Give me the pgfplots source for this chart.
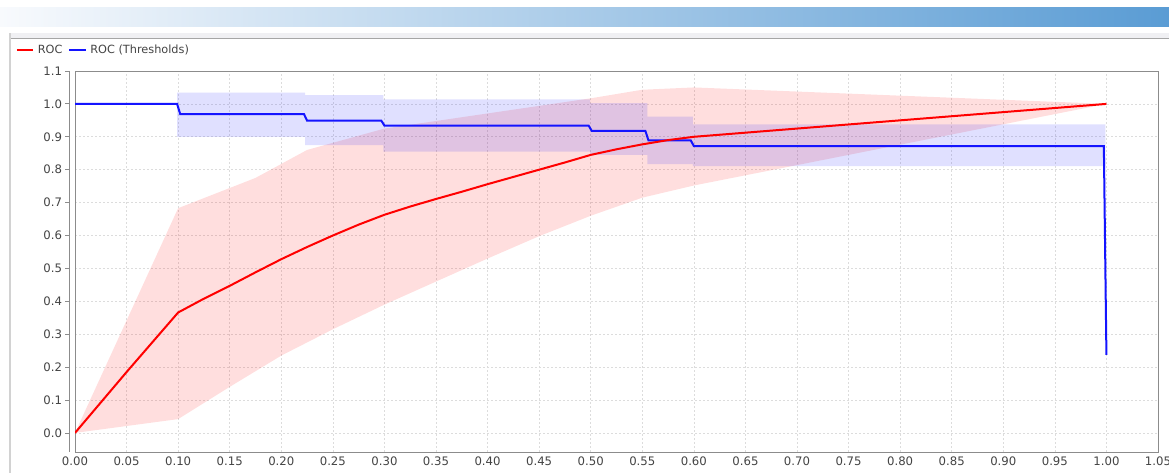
\documentclass[border=0pt]{standalone}
\usepackage{fontspec}
\setmainfont{DejaVu Sans}
\usepackage{pgfplots}
\pgfplotsset{compat=1.18}
\definecolor{txt}{RGB}{68,68,68}
\definecolor{gridc}{RGB}{220,220,220}
\definecolor{framec}{RGB}{140,140,140}
\definecolor{rocred}{RGB}{255,0,0}
\definecolor{rocblue}{RGB}{20,20,255}
\definecolor{gradL}{RGB}{248,250,253}
\definecolor{gradR}{RGB}{90,156,212}
\definecolor{bandgray}{RGB}{240,240,243}
\newcommand{\tf}{\fontsize{11.3}{13}\selectfont}
\newcommand{\tk}{\fontsize{11.7}{13}\selectfont}
\begin{document}
\begin{tikzpicture}
\useasboundingbox (0pt,0pt) rectangle (1169pt,473pt);
\fill[white] (0pt,0pt) rectangle (1169pt,473pt);
\shade[left color=gradL, right color=gradR] (0pt,446pt) rectangle (1169pt,465pt);
\fill[bandgray] (11pt,435pt) rectangle (1169pt,440pt);
\draw[gray!70, line width=0.8pt] (11pt,435pt) -- (1169pt,435pt);
\draw[gray!35, line width=2pt] (10pt,0pt) -- (10pt,440pt);

\begin{axis}[
  at={(75pt,21pt)}, anchor=south west,
  scale only axis, width=1083pt, height=381pt,
  xmin=0, xmax=1.05, ymin=-0.058, ymax=1.1,
  xtick={0,0.05,0.1,0.15,0.2,0.25,0.3,0.35,0.4,0.45,0.5,0.55,0.6,0.65,0.7,0.75,0.8,0.85,0.9,0.95,1.0,1.05},
  ytick={0,0.1,0.2,0.3,0.4,0.5,0.6,0.7,0.8,0.9,1.0,1.1},
  yticklabel={\hbox{}},
  grid=major,
  grid style={gridc, dash pattern=on 2pt off 2pt, line width=0.7pt},
  axis line style={framec, line width=0.8pt},
  major tick length=0pt,
  /pgf/number format/assume math mode=true,
  xticklabel style={font=\tk, text=txt, /pgf/number format/fixed, /pgf/number format/precision=2, /pgf/number format/fixed zerofill, yshift=-1pt},
  legend columns=2,
  legend image code/.code={\draw[#1] (0pt,0pt) -- (16.5pt,0pt);},
  legend style={draw=none, fill=none, inner sep=0pt, column sep=0pt,
    at={(axis description cs:0,1)}, anchor=west, xshift=-59.3pt, yshift=21pt,
    nodes={inner sep=0pt, text=txt, font=\tf},
    /tikz/every odd column/.append style={column sep=3.4pt},
    /tikz/every even column/.append style={column sep=6pt}},
]
% red band (ROC std)
\addplot[fill=rocred, fill opacity=0.13, draw=none, forget plot] coordinates {
 (0,0) (0.1,0.683) (0.175,0.775) (0.225,0.86) (0.3,0.925) (0.5,1.017) (0.55,1.043) (0.6,1.05) (1.0,1.0)
 (0.6,0.752) (0.55,0.715) (0.5,0.66) (0.45,0.598) (0.4,0.53) (0.35,0.46) (0.3,0.39) (0.25,0.315) (0.2,0.235) (0.15,0.14) (0.1,0.042) (0,0)
};
% blue band (threshold std)
\addplot[fill=rocblue, fill opacity=0.13, draw=none, forget plot] coordinates {
 (0.099,1.034) (0.223,1.034) (0.223,1.027) (0.299,1.027) (0.299,1.014) (0.4995,1.014) (0.4995,1.002) (0.555,1.002) (0.555,0.961) (0.599,0.961) (0.599,0.938) (0.999,0.938)
 (0.999,0.811) (0.599,0.811) (0.599,0.817) (0.555,0.817) (0.555,0.845) (0.4995,0.845) (0.4995,0.855) (0.299,0.855) (0.299,0.875) (0.223,0.875) (0.223,0.90) (0.099,0.90)
};
% ROC (Thresholds)
\addplot[rocblue, line width=2pt, forget plot] coordinates {
 (0,1.0) (0.099,1.0) (0.102,0.969) (0.222,0.969) (0.225,0.949) (0.297,0.949) (0.300,0.934) (0.498,0.934) (0.501,0.918) (0.553,0.918) (0.556,0.889) (0.597,0.889) (0.600,0.872) (0.9975,0.872) (1.0,0.237)
};
% ROC
\addplot[rocred, line width=2pt, forget plot] coordinates {
 (0,0) (0.05,0.185) (0.1,0.366) (0.125,0.408) (0.15,0.447) (0.175,0.488) (0.2,0.528) (0.225,0.565) (0.25,0.6) (0.275,0.633) (0.3,0.663) (0.325,0.688) (0.35,0.711) (0.375,0.733) (0.4,0.756) (0.425,0.778) (0.45,0.800) (0.475,0.822) (0.5,0.845) (0.525,0.862) (0.55,0.877) (0.575,0.890) (0.6,0.9) (1.0,1.0)
};
\addlegendimage{rocred, line width=2pt}
\addlegendentry{ROC}
\addlegendimage{rocblue, line width=2pt}
\addlegendentry{ROC (Thresholds)}
\end{axis}

\begin{axis}[
  at={(69.5pt,21pt)}, anchor=south west,
  scale only axis, width=2pt, height=381pt,
  xmin=0, xmax=1, ymin=-0.058, ymax=1.1,
  axis y line*=left, axis x line=none,
  y axis line style={-, framec, line width=0.8pt},
  ytick={0,0.1,0.2,0.3,0.4,0.5,0.6,0.7,0.8,0.9,1.0,1.1},
  tick align=outside, major tick length=4pt,
  tick style={framec, line width=0.8pt},
  /pgf/number format/assume math mode=true,
  yticklabel style={font=\tk, text=txt, /pgf/number format/fixed, /pgf/number format/precision=1, /pgf/number format/fixed zerofill},
]
\addplot[draw=none] coordinates {(0,0)};
\end{axis}
\end{tikzpicture}
\end{document}
